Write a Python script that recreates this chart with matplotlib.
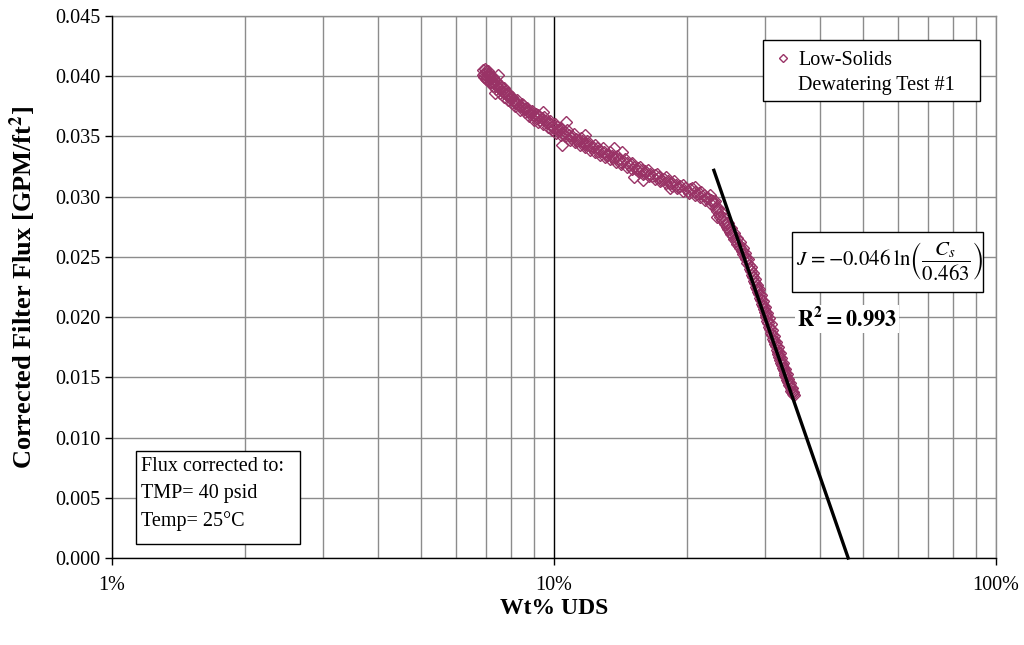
import numpy as np
import matplotlib
matplotlib.use("Agg")
import matplotlib.pyplot as plt
from matplotlib.patches import Rectangle
from matplotlib.ticker import FixedLocator, FuncFormatter, LogLocator, NullFormatter

# Times-like look for all text, STIX for the fitted equation
plt.rcParams["font.family"] = ["Liberation Serif", "DejaVu Serif"]
plt.rcParams["mathtext.fontset"] = "stix"

# Measured flux vs. wt% undissolved solids (logged in several passes)
WT_PCT = [
    # pass 1
    6.90, 6.95, 7.00, 7.05, 7.10, 7.15, 7.20, 7.25, 7.30, 7.38, 7.45, 7.52,
    7.60, 7.68, 7.75, 7.83, 7.92, 8.00, 8.10, 8.20, 8.30, 8.40, 8.50, 8.62,
    8.75, 8.88, 9.00, 9.12, 9.25, 9.40, 9.55, 9.70, 9.85, 10.0, 10.15,
    10.3, 10.45, 10.6, 10.8, 11.0, 11.2, 11.4, 11.6, 11.8, 12.0, 12.25, 12.5,
    12.75, 13.0, 13.25, 13.5, 13.75, 14.0, 14.3, 14.6, 14.9, 15.2, 15.5, 15.8,
    16.1, 16.5, 16.9, 17.3, 17.7, 18.1, 18.5, 18.9, 19.3, 19.8, 20.3, 20.8,
    21.3, 21.8, 22.3, 22.7,
    23.0, 23.4, 23.8, 24.2, 24.6, 25.0, 25.4, 25.8, 26.2, 26.6, 27.0, 27.4,
    27.7, 28.0, 28.3, 28.6, 28.9, 29.2, 29.5, 29.8, 30.1, 30.4, 30.7, 31.0,
    31.3, 31.6, 31.9, 32.2, 32.5, 32.8, 33.1, 33.4, 33.7, 34.0, 34.3, 34.6,
    34.9,
    # pass 2
    6.92, 6.98, 7.03, 7.08, 7.13, 7.18, 7.22, 7.28, 7.33, 7.41, 7.48, 7.56,
    7.64, 7.71, 7.79, 7.87, 7.96, 8.05, 8.15, 8.25, 8.35, 8.45, 8.56, 8.68,
    8.81, 8.94, 9.06, 9.18, 9.32, 9.47, 9.62, 9.77, 9.92, 10.07, 10.22,
    10.37, 10.52, 10.7, 10.9, 11.1, 11.3, 11.5, 11.7, 11.9, 12.1, 12.4, 12.6,
    12.9, 13.1, 13.4, 13.6, 13.9, 14.15, 14.45, 14.75, 15.05, 15.35, 15.65,
    15.95, 16.3, 16.7, 17.1, 17.5, 17.9, 18.3, 18.7, 19.1, 19.55, 20.05,
    20.55, 21.05, 21.55, 22.05, 22.5, 22.9,
    23.2, 23.6, 24.0, 24.4, 24.8, 25.2, 25.6, 26.0, 26.4, 26.8, 27.2, 27.55,
    27.85, 28.15, 28.45, 28.75, 29.05, 29.35, 29.65, 29.95, 30.25, 30.55,
    30.85, 31.15, 31.45, 31.75, 32.05, 32.35, 32.65, 32.95, 33.25, 33.55,
    33.85, 34.15, 34.45, 34.75,
    # pass 3
    6.94, 7.06, 7.16, 7.27, 7.40, 7.54, 7.70, 7.85, 8.02, 8.18, 8.38, 8.58,
    8.78, 9.00, 9.22, 9.45, 9.68, 9.90, 10.12, 10.35, 10.6, 10.85, 11.15,
    11.45, 11.75, 12.05, 12.35, 12.7, 13.05, 13.4, 13.8, 14.2, 14.6, 15.0,
    15.45, 15.9, 16.4, 16.9, 17.4, 17.9, 18.45, 19.0, 19.6, 20.2, 20.8, 21.4,
    22.0, 22.6,
    23.1, 23.5, 23.9, 24.3, 24.7, 25.1, 25.5, 25.9, 26.3, 26.7, 27.1, 27.5,
    27.9, 28.2, 28.5, 28.8, 29.1, 29.4, 29.7, 30.0, 30.3, 30.6, 30.9, 31.2,
    31.5, 31.8, 32.1, 32.4, 32.7, 33.0, 33.3, 33.6, 33.9, 34.2, 34.5, 34.8,
    # stray readings
    7.48, 7.36, 9.45, 10.67, 10.4, 11.75, 13.66, 14.22, 15.2, 15.9, 18.3,
    20.8, 23.4, 24.6,
]
FLUX = [
    # pass 1
    0.0405, 0.0402, 0.0404, 0.0400, 0.0402, 0.0398, 0.0399, 0.0396, 0.0397,
    0.0393, 0.0394, 0.0390, 0.0391, 0.0387, 0.0388, 0.0384, 0.0384, 0.0381,
    0.0380, 0.0378, 0.0377, 0.0375, 0.0376, 0.0373, 0.0371, 0.0370, 0.0368,
    0.0369, 0.0366, 0.0365, 0.0363, 0.0362, 0.0360, 0.0357, 0.0358,
    0.0355, 0.0353, 0.0354, 0.0351, 0.0350, 0.0348, 0.0347, 0.0346, 0.0344,
    0.0343, 0.0341, 0.0340, 0.0338, 0.0337, 0.0335, 0.0334, 0.0333, 0.0331,
    0.0330, 0.0328, 0.0327, 0.0325, 0.0324, 0.0322, 0.0321, 0.0319, 0.0318,
    0.0316, 0.0315, 0.0313, 0.0311, 0.0310, 0.0309, 0.0307, 0.0306, 0.0304,
    0.0303, 0.0301, 0.0299, 0.0297,
    0.0294, 0.0288, 0.0283, 0.0279, 0.0275, 0.0271, 0.0267, 0.0263, 0.0259,
    0.0255, 0.0250, 0.0245, 0.0240, 0.0235, 0.0230, 0.0225, 0.0221, 0.0216,
    0.0211, 0.0207, 0.0202, 0.0197, 0.0192, 0.0187, 0.0182, 0.0178, 0.0173,
    0.0169, 0.0164, 0.0160, 0.0156, 0.0152, 0.0148, 0.0144, 0.0141, 0.0138,
    0.0135,
    # pass 2
    0.0401, 0.0406, 0.0398, 0.0404, 0.0400, 0.0401, 0.0395, 0.0399, 0.0394,
    0.0396, 0.0391, 0.0393, 0.0388, 0.0390, 0.0385, 0.0386, 0.0382, 0.0383,
    0.0378, 0.0380, 0.0375, 0.0377, 0.0373, 0.0374, 0.0369, 0.0371, 0.0366,
    0.0368, 0.0364, 0.0366, 0.0361, 0.0363, 0.0358, 0.0360, 0.0355,
    0.0357, 0.0352, 0.0355, 0.0349, 0.0352, 0.0346, 0.0349, 0.0344, 0.0346,
    0.0341, 0.0343, 0.0338, 0.0340, 0.0335, 0.0337, 0.0332, 0.0334, 0.0329,
    0.0331, 0.0326, 0.0328, 0.0323, 0.0325, 0.0320, 0.0322, 0.0317, 0.0319,
    0.0314, 0.0316, 0.0311, 0.0313, 0.0308, 0.0310, 0.0305, 0.0307, 0.0302,
    0.0304, 0.0299, 0.0301, 0.0296,
    0.0291, 0.0286, 0.0281, 0.0277, 0.0273, 0.0269, 0.0265, 0.0261, 0.0257,
    0.0252, 0.0248, 0.0243, 0.0238, 0.0233, 0.0228, 0.0223, 0.0219, 0.0214,
    0.0209, 0.0204, 0.0200, 0.0195, 0.0190, 0.0185, 0.0180, 0.0176, 0.0171,
    0.0167, 0.0162, 0.0158, 0.0154, 0.0150, 0.0146, 0.0143, 0.0139, 0.0136,
    # pass 3
    0.0399, 0.0397, 0.0395, 0.0392, 0.0389, 0.0386, 0.0383, 0.0380, 0.0378,
    0.0375, 0.0372, 0.0370, 0.0367, 0.0364, 0.0362, 0.0360, 0.0358, 0.0355,
    0.0353, 0.0351, 0.0350, 0.0347, 0.0345, 0.0343, 0.0341, 0.0339, 0.0337,
    0.0335, 0.0333, 0.0331, 0.0329, 0.0327, 0.0325, 0.0323, 0.0321, 0.0319,
    0.0317, 0.0315, 0.0313, 0.0311, 0.0309, 0.0307, 0.0305, 0.0303, 0.0301,
    0.0300, 0.0297, 0.0294,
    0.0296, 0.0291, 0.0287, 0.0282, 0.0278, 0.0274, 0.0270, 0.0266, 0.0262,
    0.0257, 0.0253, 0.0248, 0.0242, 0.0237, 0.0232, 0.0227, 0.0223, 0.0218,
    0.0213, 0.0208, 0.0203, 0.0199, 0.0194, 0.0189, 0.0184, 0.0179, 0.0175,
    0.0170, 0.0166, 0.0162, 0.0157, 0.0153, 0.0149, 0.0145, 0.0141, 0.0138,
    # stray readings
    0.0401, 0.0386, 0.0370, 0.0362, 0.0343, 0.0351, 0.0340, 0.0337, 0.0316,
    0.0314, 0.0307, 0.0308, 0.0283, 0.0278,
]

# Logarithmic fit J = a * ln(Cs / Cs0) over the steep tail
FIT_A = -0.046
FIT_CS0 = 0.463
FIT_R2 = 0.993
FIT_START = 0.230

SERIES_LABEL = "Low-Solids\nDewatering Test #1"
NOTE_TEXT = "Flux corrected to:\nTMP= 40 psid\nTemp= 25\u00b0C"
X_TICKS = [1, 10, 100]
Y_TICKS = [0.000, 0.005, 0.010, 0.015, 0.020, 0.025, 0.030, 0.035, 0.040, 0.045]

PURPLE = "#993366"
GRID = "#8c8c8c"

fig = plt.figure(figsize=(10.24, 6.45), dpi=100)
ax = fig.add_axes([112 / 1024, 1 - 558 / 645, 884 / 1024, 542 / 645])
ax.set_xscale("log")
ax.set_xlim(1, 100)
ax.set_ylim(0, 0.045)

# grid: minor decades in grey, the 10% line drawn in black
ax.xaxis.set_major_locator(FixedLocator(X_TICKS))
ax.xaxis.set_minor_locator(LogLocator(base=10, subs=np.arange(2, 10)))
ax.xaxis.set_minor_formatter(NullFormatter())
ax.xaxis.set_major_formatter(FuncFormatter(lambda v, _: f"{v:g}%"))
ax.yaxis.set_major_locator(FixedLocator(Y_TICKS))
ax.yaxis.set_major_formatter(FuncFormatter(lambda v, _: f"{v:.3f}"))
ax.grid(True, which="both", axis="x", color=GRID, lw=1.0)
ax.grid(True, which="major", axis="y", color=GRID, lw=1.0)
ax.axvline(10, color="black", lw=0.9, zorder=1.5)
ax.axvline(100, color=GRID, lw=1.0, clip_on=False)
ax.axhline(0.045, color=GRID, lw=1.0, clip_on=False)
ax.set_axisbelow(True)

for side in ("top", "right"):
    ax.spines[side].set_visible(False)
for side in ("left", "bottom"):
    ax.spines[side].set_linewidth(1.0)
ax.tick_params(axis="both", which="major", direction="out", length=5, width=1,
               labelsize=14.5, colors="black")
ax.tick_params(axis="x", which="minor", length=0)
ax.tick_params(axis="x", pad=8)

ax.plot(WT_PCT, FLUX, linestyle="none", marker="D", markersize=5.8,
        markerfacecolor="none", markeredgecolor=PURPLE, markeredgewidth=1.0,
        zorder=3)

cs = np.geomspace(FIT_START, FIT_CS0, 60)
ax.plot(cs * 100, FIT_A * np.log(cs / FIT_CS0), color="black", lw=2.4,
        zorder=4, clip_on=False)

ax.set_xlabel("Wt% UDS", fontsize=17, fontweight="bold", labelpad=2)
ax.set_ylabel("Corrected Filter Flux [GPM/ft$^\\mathbf{2}$]", fontsize=19,
              fontweight="bold", labelpad=12)

# legend box
ax.add_patch(Rectangle((0.7364, 0.8432), 0.2455, 0.1125, transform=ax.transAxes,
                       facecolor="white", edgecolor="black", lw=1.0, zorder=5))
ax.plot([0.759], [0.9225], transform=ax.transAxes, marker="D", markersize=4,
        markerfacecolor="none", markeredgecolor=PURPLE, markeredgewidth=1.0,
        zorder=6)
ax.text(0.7765, 0.895, SERIES_LABEL, transform=ax.transAxes, fontsize=14.5,
        ha="left", va="center", linespacing=1.45, zorder=6)

# fitted equation and R^2
ax.add_patch(Rectangle((0.7692, 0.4908), 0.2161, 0.1107, transform=ax.transAxes,
                       facecolor="white", edgecolor="black", lw=1.0, zorder=5))
ax.text(0.8795, 0.5461,
        r"$J\,=-0.046\;\ln\!\left(\dfrac{C_s}{0.463}\right)$",
        transform=ax.transAxes, fontsize=15, ha="center", va="center", zorder=6)
ax.text(0.8314, 0.441, rf"$\mathbf{{R^2 = {FIT_R2:.3f}}}$", transform=ax.transAxes,
        fontsize=16, ha="center", va="center", zorder=6,
        bbox=dict(boxstyle="square,pad=0.1", facecolor="white", edgecolor="none"))

# correction conditions note
ax.add_patch(Rectangle((0.02715, 0.0258), 0.1855, 0.1716, transform=ax.transAxes,
                       facecolor="white", edgecolor="black", lw=1.0, zorder=5))
ax.text(0.0328, 0.118, NOTE_TEXT, transform=ax.transAxes, fontsize=14.5,
        ha="left", va="center", linespacing=1.55, zorder=6)

fig.savefig("out.png", dpi=100)
